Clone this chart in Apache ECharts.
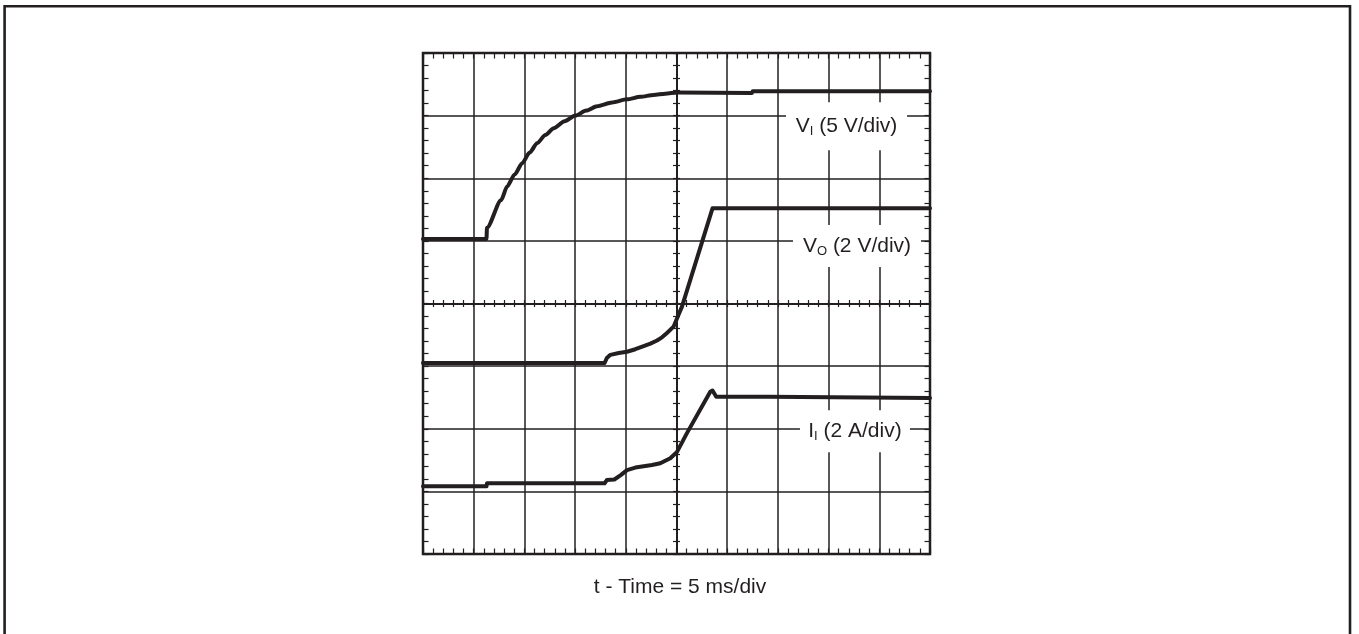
<!DOCTYPE html>
<html>
<head>
<meta charset="utf-8">
<script src="https://cdn.jsdelivr.net/npm/echarts@6/dist/echarts.min.js"></script>
<style>
html,body{margin:0;padding:0;background:#fff;}
#chart{width:1359px;height:634px;}
</style>
</head>
<body>
<div id="chart"></div>
<script>
// time in ms (5 ms/div), level in screen divisions (0 = bottom graticule line, 8 = top)
const viTime  = [0, 6.26, 6.31, 7.70, 8.30, 9.04, 9.78, 10.52, 11.25, 12.07, 12.89, 13.96, 15.03, 16.10, 17.17, 18.65, 20.12, 21.43, 22.74, 23.90, 25.05, 32.44, 32.51, 50];
const viLevel = [5.03, 5.03, 5.21, 5.65, 5.87, 6.06, 6.24, 6.41, 6.56, 6.69, 6.80, 6.91, 7.00, 7.08, 7.15, 7.21, 7.26, 7.30, 7.33, 7.35, 7.37, 7.36, 7.39, 7.39];

const voTime  = [0, 17.91, 18.13, 18.48, 19.30, 20.12, 20.94, 21.76, 22.42, 23.08, 23.57, 24.06, 24.71, 25.20, 25.54, 28.55, 50];
const voLevel = [3.05, 3.05, 3.13, 3.18, 3.21, 3.23, 3.27, 3.32, 3.36, 3.41, 3.46, 3.53, 3.63, 3.82, 3.95, 5.52, 5.52];

const iiTime  = [0, 6.26, 6.31, 17.91, 18.13, 18.87, 19.50, 20.12, 20.94, 21.76, 22.58, 23.40, 24.39, 25.05, 26.03, 28.33, 28.55, 28.92, 34.07, 34.14, 50];
const iiLevel = [1.08, 1.08, 1.13, 1.13, 1.18, 1.19, 1.26, 1.34, 1.38, 1.40, 1.42, 1.45, 1.53, 1.63, 1.93, 2.59, 2.61, 2.51, 2.51, 2.49, 2.49];

// graticule: 10 x 8 divisions, 5 minor marks per division
const xRange = {min: 0, max: 50};
const yRange = {min: 0, max: 8};
const xMajor = 5, xMinor = 1;
const yMajor = 1, yMinor = 0.2;

const traceLabels = [
  {name: 'VI', main: 'V', sub: 'I', rest: ' (5 V/div)', at: [41.77, 6.83], box: [121, 48]},
  {name: 'VO', main: 'V', sub: 'O', rest: ' (2 V/div)', at: [42.80, 4.92], box: [128, 42]},
  {name: 'II', main: 'I', sub: 'I', rest: ' (2 A/div)', at: [42.60, 1.96], box: [110, 42]}
];
const xTitle = 't - Time = 5 ms/div';

const INK = '#231f20';
const FONT = '"Liberation Sans", Arial, Helvetica, sans-serif';

function zip(a, b) { return a.map((v, i) => [v, b[i]]); }

const G = {left: 423, top: 53, width: 507, height: 501};

function tickAxis(kind, grid, position, len, withLine) {
  const r = kind === 'x' ? xRange : yRange;
  return {
    type: 'value', gridIndex: grid, position: position, min: r.min, max: r.max,
    interval: kind === 'x' ? xMinor : yMinor,
    axisLine: {show: !!withLine, onZero: false, lineStyle: {color: INK, width: 2}},
    axisTick: {show: true, inside: true, length: len, lineStyle: {color: INK, width: 1.2}},
    axisLabel: {show: false}, splitLine: {show: false}
  };
}
function splitAxis(kind, grid) {
  const r = kind === 'x' ? xRange : yRange;
  return {
    type: 'value', gridIndex: grid, min: r.min, max: r.max,
    interval: kind === 'x' ? xMajor : yMajor,
    axisLine: {show: false, onZero: false}, axisTick: {show: false}, axisLabel: {show: false},
    splitLine: {show: true, lineStyle: {color: INK, width: 1.5}}
  };
}
function hiddenAxis(kind, grid) {
  const r = kind === 'x' ? xRange : yRange;
  return {type: 'value', gridIndex: grid, min: r.min, max: r.max, show: false, axisLine: {onZero: false}};
}

const chart = echarts.init(document.getElementById('chart'), null, {renderer: 'canvas'});

const traces = [[viTime, viLevel, 0.25], [voTime, voLevel, 0], [iiTime, iiLevel, 0]];
const series = traces.map((d, i) => {
  const L = traceLabels[i];
  return {
    type: 'line', name: L.name, xAxisIndex: 0, yAxisIndex: 0,
    data: zip(d[0], d[1]), showSymbol: false, symbol: 'none',
    smooth: d[2], smoothMonotone: 'x',
    lineStyle: {color: INK, width: 4, cap: 'round', join: 'round'},
    z: 5,
    markPoint: {
      silent: true, animation: false,
      symbol: 'rect', symbolSize: L.box,
      itemStyle: {color: '#ffffff', borderWidth: 0},
      label: {
        show: true, position: 'inside',
        formatter: '{m|' + L.main + '}{s|' + L.sub + '}{m|' + L.rest + '}',
        rich: {
          m: {fontSize: 21, fontFamily: FONT, color: INK, lineHeight: 24},
          s: {fontSize: 13, fontFamily: FONT, color: INK, lineHeight: 12, verticalAlign: 'bottom'}
        }
      },
      data: [{coord: L.at}]
    }
  };
});

chart.setOption({
  animation: false,
  backgroundColor: '#ffffff',
  grid: [
    Object.assign({show: true, borderColor: INK, borderWidth: 2.5, backgroundColor: 'transparent'}, G),
    {left: G.left, top: G.top, width: G.width, height: G.height},
    {left: G.left, top: G.top, width: G.width, height: G.height / 2},
    {left: G.left, top: G.top + G.height / 2, width: G.width, height: G.height / 2},
    {left: G.left, top: G.top, width: G.width / 2, height: G.height},
    {left: G.left + G.width / 2, top: G.top, width: G.width / 2, height: G.height}
  ],
  xAxis: [
    tickAxis('x', 0, 'bottom', 5.5, false),
    tickAxis('x', 0, 'top', 5.5, false),
    splitAxis('x', 1),
    tickAxis('x', 2, 'bottom', 3.5, true),
    tickAxis('x', 3, 'top', 3.5, false),
    hiddenAxis('x', 4),
    hiddenAxis('x', 5)
  ],
  yAxis: [
    tickAxis('y', 0, 'left', 5.5, false),
    tickAxis('y', 0, 'right', 5.5, false),
    splitAxis('y', 1),
    hiddenAxis('y', 2),
    hiddenAxis('y', 3),
    tickAxis('y', 4, 'right', 3.5, true),
    tickAxis('y', 5, 'left', 3.5, false)
  ],
  graphic: [
    {type: 'rect', silent: true, z: 100,
     shape: {x: 4.6, y: 6.2, width: 1345.4, height: 700},
     style: {fill: 'none', stroke: INK, lineWidth: 2.6}},
    {type: 'text', silent: true, z: 100, x: 680, y: 587,
     style: {text: xTitle, fill: INK, font: '21px ' + FONT, textAlign: 'center', textVerticalAlign: 'middle'}}
  ],
  series: series
});
</script>
</body>
</html>
